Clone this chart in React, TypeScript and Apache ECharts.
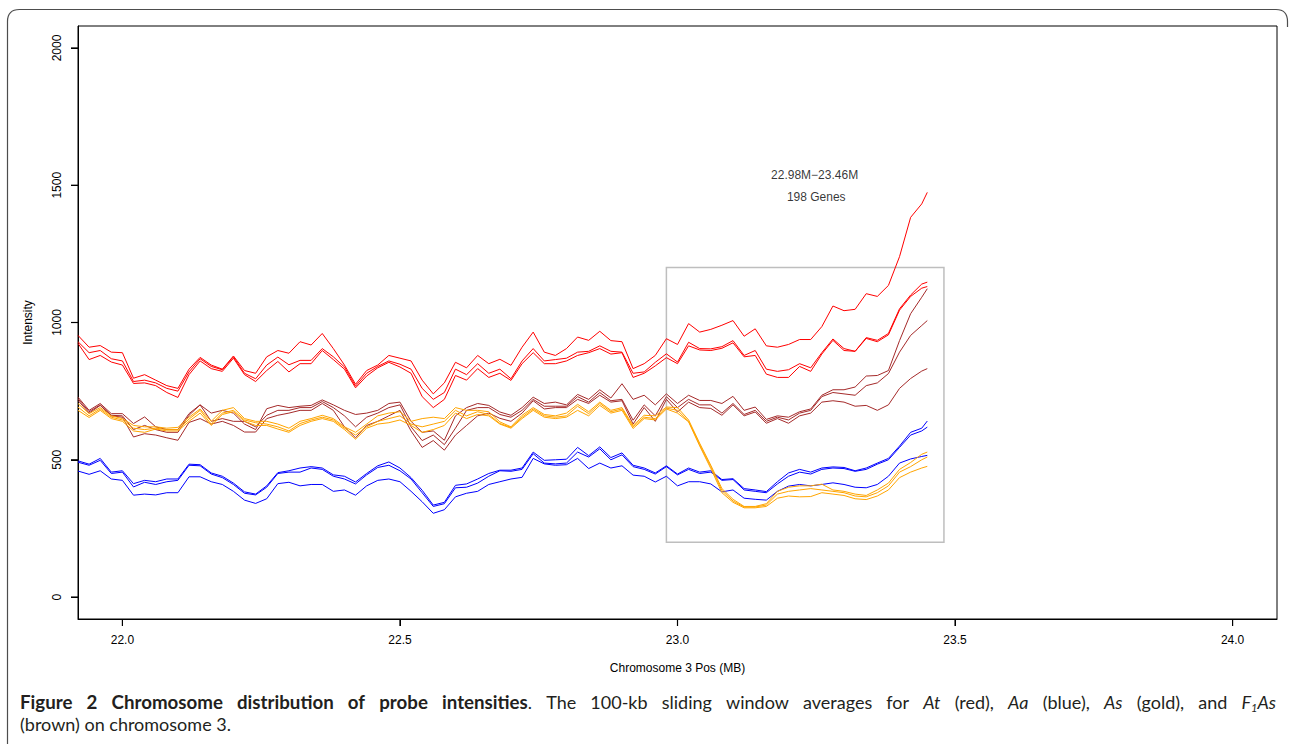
import React, { useEffect, useRef } from "react";
import * as echarts from "echarts";

// Chromosome 3 positions (MB) of the sliding-window averages
const POS = [
  21.92, 21.94, 21.96, 21.98, 22.0, 22.02, 22.04, 22.06, 22.08, 22.1,
  22.12, 22.14, 22.16, 22.18, 22.2, 22.22, 22.24, 22.26, 22.28, 22.3,
  22.32, 22.34, 22.36, 22.38, 22.4, 22.42, 22.44, 22.46, 22.48, 22.5,
  22.52, 22.54, 22.56, 22.58, 22.6, 22.62, 22.64, 22.66, 22.68, 22.7,
  22.72, 22.74, 22.76, 22.78, 22.8, 22.82, 22.84, 22.86, 22.88, 22.9,
  22.92, 22.94, 22.96, 22.98, 23.0, 23.02, 23.04, 23.06, 23.08, 23.1,
  23.12, 23.14, 23.16, 23.18, 23.2, 23.22, 23.24, 23.26, 23.28, 23.3,
  23.32, 23.34, 23.36, 23.38, 23.4, 23.42, 23.44, 23.45,
];

// At (red)
const AT_1 = [
  953, 910, 916, 892, 890, 797, 810, 790, 770, 760,
  830, 873, 845, 830, 878, 825, 815, 875, 898, 888,
  930, 918, 960, 905, 845, 775, 825, 845, 880, 870,
  860, 790, 740, 780, 855, 835, 880, 850, 866, 844,
  910, 965, 892, 880, 905, 947, 935, 968, 934, 930,
  832, 850, 880, 941, 920, 996, 965, 975, 990, 1007,
  950, 977, 915, 910, 920, 938, 938, 985, 1060, 1043,
  1048, 1105, 1095, 1135, 1240, 1383, 1432, 1474,
];
const AT_2 = [
  930, 890, 898, 868, 860, 785, 790, 780, 760, 750,
  820, 868, 840, 828, 875, 815, 795, 845, 874, 846,
  862, 862, 905, 875, 838, 768, 815, 840, 860, 848,
  830, 760, 720, 745, 830, 810, 850, 815, 830, 795,
  860, 905, 860, 865, 870, 892, 895, 915, 895, 892,
  815, 820, 855, 886, 856, 928, 905, 904, 912, 934,
  880, 898, 830, 822, 828, 850, 835, 890, 940, 905,
  895, 945, 935, 960, 1050, 1100, 1140, 1147,
];
const AT_3 = [
  924, 865, 880, 856, 845, 778, 780, 770, 745, 727,
  810, 860, 832, 822, 870, 810, 785, 825, 858, 820,
  850, 850, 898, 865, 830, 762, 805, 835, 855, 838,
  815, 730, 690, 720, 807, 790, 832, 800, 815, 789,
  850, 890, 850, 850, 860, 880, 890, 905, 885, 890,
  800, 815, 842, 872, 850, 915, 900, 898, 906, 926,
  875, 880, 812, 800, 800, 840, 822, 885, 935, 898,
  895, 942, 930, 955, 1045, 1095, 1125, 1131,
];

// Aa (blue)
const AA_1 = [
  496, 484, 505, 455, 460, 413, 425, 420, 430, 430,
  484, 482, 452, 440, 415, 383, 375, 405, 453, 460,
  470, 475, 470, 445, 440, 419, 450, 478, 492, 470,
  435, 389, 335, 345, 407, 412, 430, 450, 462, 462,
  470, 528, 498, 500, 502, 545, 515, 547, 508, 525,
  480, 470, 452, 478, 448, 470, 455, 460, 428, 431,
  395, 390, 384, 420, 452, 465, 455, 470, 474, 472,
  460, 470, 488, 505, 550, 600, 615, 641,
];
const AA_2 = [
  491, 480, 498, 450, 455, 401, 418, 410, 420, 425,
  480, 478, 448, 435, 410, 378, 372, 400, 450, 455,
  455, 470, 465, 440, 430, 412, 445, 472, 480, 460,
  430, 380, 330, 340, 398, 400, 415, 440, 460, 458,
  465, 522, 488, 485, 488, 528, 510, 540, 500, 518,
  475, 465, 448, 475, 445, 465, 450, 455, 425, 428,
  390, 385, 380, 412, 440, 455, 448, 465, 470, 468,
  458, 465, 484, 500, 545, 590, 605, 619,
];
const AA_3 = [
  459, 447, 460, 430, 425, 371, 375, 372, 380, 380,
  438, 438, 420, 410, 385, 353, 341, 358, 413, 418,
  405, 410, 410, 385, 390, 371, 405, 425, 430, 420,
  385, 347, 305, 318, 365, 378, 385, 410, 420, 430,
  436, 505, 485, 480, 482, 505, 468, 488, 470, 478,
  444, 440, 419, 440, 405, 420, 420, 412, 383, 390,
  360, 356, 353, 385, 404, 410, 405, 410, 416, 410,
  400, 398, 410, 440, 488, 503, 512, 516,
];

// As (gold)
const AS_1 = [
  705, 668, 690, 660, 650, 625, 620, 620, 615, 618,
  655, 685, 640, 680, 690, 650, 640, 640, 630, 615,
  640, 650, 662, 650, 620, 600, 630, 660, 670, 675,
  640, 650, 655, 650, 690, 680, 680, 675, 638, 620,
  662, 690, 665, 660, 670, 702, 675, 710, 680, 690,
  625, 662, 660, 692, 690, 645, 560, 480, 395, 356,
  330, 330, 340, 385, 400, 405, 405, 411, 390, 385,
  375, 370, 390, 415, 465, 490, 520, 528,
];
const AS_2 = [
  692, 660, 685, 655, 645, 615, 610, 615, 610, 610,
  648, 680, 630, 670, 680, 645, 635, 630, 620, 605,
  632, 645, 655, 645, 615, 590, 620, 640, 650, 660,
  630, 620, 630, 640, 680, 660, 675, 665, 632, 618,
  655, 685, 660, 655, 660, 695, 668, 705, 675, 685,
  620, 655, 650, 688, 680, 640, 555, 475, 388, 350,
  328, 328, 335, 375, 385, 390, 395, 390, 385, 380,
  368, 365, 380, 405, 455, 475, 500, 510,
];
const AS_3 = [
  680, 654, 680, 650, 640, 605, 600, 612, 605, 605,
  640, 670, 625, 665, 675, 640, 625, 625, 612, 600,
  625, 640, 650, 640, 610, 575, 615, 630, 635, 645,
  625, 600, 610, 625, 670, 650, 665, 660, 630, 615,
  650, 680, 655, 650, 655, 680, 660, 698, 670, 680,
  614, 650, 645, 685, 670, 638, 550, 468, 380, 345,
  325, 325, 330, 360, 368, 365, 366, 380, 375, 370,
  358, 355, 368, 390, 435, 455, 470, 476,
];

// F1As (brown)
const F1AS_1 = [
  728, 680, 705, 668, 668, 632, 656, 620, 610, 610,
  668, 700, 670, 680, 670, 630, 610, 686, 698, 690,
  695, 698, 718, 700, 680, 665, 670, 680, 705, 710,
  640, 600, 605, 571, 660, 690, 705, 698, 674, 662,
  690, 728, 705, 710, 700, 738, 720, 755, 725, 777,
  720, 735, 700, 740, 705, 735, 716, 716, 705, 731,
  680, 692, 647, 660, 655, 675, 685, 735, 755, 755,
  765, 805, 807, 825, 934, 1032, 1092, 1123,
];
const F1AS_2 = [
  722, 675, 700, 662, 660, 610, 625, 610, 600, 600,
  662, 700, 640, 650, 640, 640, 620, 662, 680, 680,
  690, 690, 712, 690, 660, 620, 655, 670, 690, 700,
  620, 570, 590, 555, 615, 680, 690, 690, 665, 655,
  680, 720, 695, 695, 695, 730, 710, 745, 715, 720,
  644, 700, 660, 730, 690, 720, 700, 700, 670, 705,
  665, 680, 640, 655, 645, 670, 680, 730, 745, 740,
  735, 770, 780, 814, 892, 953, 989, 1007,
];
const F1AS_3 = [
  716, 670, 698, 660, 655, 583, 595, 590, 580, 571,
  636, 650, 630, 640, 625, 601, 601, 650, 662, 670,
  680, 680, 705, 680, 620, 580, 625, 640, 660, 680,
  605, 545, 570, 535, 590, 625, 660, 670, 651, 640,
  670, 715, 685, 690, 690, 720, 705, 735, 710, 715,
  630, 690, 640, 720, 674, 710, 690, 687, 662, 700,
  660, 674, 633, 650, 633, 660, 670, 710, 715, 710,
  695, 698, 680, 700, 760, 796, 823, 832,
];

const X_TICKS = [22.0, 22.5, 23.0, 23.5, 24.0];
const Y_TICKS = [0, 500, 1000, 1500, 2000];
const X_MIN = 21.92;
const X_MAX = 24.08;
const Y_MIN = -80;
const Y_MAX = 2080;

// highlighted region
const BOX_X = [22.98, 23.48];
const BOX_Y = [200, 1200];
const NOTE_TEXT = ["22.98M\u221223.46M", "198 Genes"];
const NOTE_X = [23.247, 23.25];
const NOTE_Y = [1538, 1458];

const RED = "#ff0000";
const BLUE = "#0000ff";
const GOLD = "#ffa500";
const BROWN = "#a52a2a";

const LINES = [
  { name: "At 1", data: AT_1, color: RED },
  { name: "At 2", data: AT_2, color: RED },
  { name: "At 3", data: AT_3, color: RED },
  { name: "Aa 1", data: AA_1, color: BLUE },
  { name: "Aa 2", data: AA_2, color: BLUE },
  { name: "Aa 3", data: AA_3, color: BLUE },
  { name: "F1As 1", data: F1AS_1, color: BROWN },
  { name: "F1As 2", data: F1AS_2, color: BROWN },
  { name: "F1As 3", data: F1AS_3, color: BROWN },
  { name: "As 1", data: AS_1, color: GOLD },
  { name: "As 2", data: AS_2, color: GOLD },
  { name: "As 3", data: AS_3, color: GOLD },
];

type Run = { t: string; b?: boolean; i?: boolean; sub?: boolean };
const CAPTION_LINE1: Run[][] = [
  [{ t: "Figure", b: true }],
  [{ t: "2", b: true }],
  [{ t: "Chromosome", b: true }],
  [{ t: "distribution", b: true }],
  [{ t: "of", b: true }],
  [{ t: "probe", b: true }],
  [{ t: "intensities", b: true }, { t: "." }],
  [{ t: "The" }],
  [{ t: "100-kb" }],
  [{ t: "sliding" }],
  [{ t: "window" }],
  [{ t: "averages" }],
  [{ t: "for" }],
  [{ t: "At", i: true }],
  [{ t: "(red)," }],
  [{ t: "Aa", i: true }],
  [{ t: "(blue)," }],
  [{ t: "As", i: true }],
  [{ t: "(gold)," }],
  [{ t: "and" }],
  [{ t: "F", i: true }, { t: "1", i: true, sub: true }, { t: "As", i: true }],
];
const CAPTION_LINE2 = "(brown) on chromosome 3.";

const AXIS_FONT = "'Liberation Sans', Arial, Helvetica, sans-serif";
const CAP_FAMILY = "Lato";
const CAP_SIZE = 18;
const BOLD_SIZE = 18.7;
const SUB_SIZE = 11;

const GRID = { left: 78, top: 26, width: 1199, height: 593 };
const TICK_LEN = 7;

function runSize(r: Run) {
  return r.sub ? SUB_SIZE : r.b ? BOLD_SIZE : CAP_SIZE;
}
function runFont(r: Run) {
  return `${r.i ? "italic " : ""}${r.b ? "bold " : ""}${runSize(r)}px ${CAP_FAMILY}`;
}

function buildCaption(): any[] {
  const canvas = document.createElement("canvas");
  const ctx = canvas.getContext("2d")!;
  const measure = (r: Run) => {
    ctx.font = runFont(r);
    return ctx.measureText(r.t).width;
  };
  const left = 20;
  const right = 1276;
  const y1 = 702;
  const y2 = 724;
  const wordWidths = CAPTION_LINE1.map((w) => w.reduce((s, r) => s + measure(r), 0));
  const total = wordWidths.reduce((a, b) => a + b, 0);
  const gap = (right - left - total) / (CAPTION_LINE1.length - 1);
  const els: any[] = [];
  let x = left;
  CAPTION_LINE1.forEach((word, wi) => {
    let rx = x;
    word.forEach((r) => {
      els.push({
        type: "text",
        x: rx,
        y: r.sub ? y1 + 5 : y1,
        silent: true,
        style: {
          text: r.t,
          fill: "#231f20",
          fontFamily: CAP_FAMILY,
          fontSize: runSize(r),
          fontWeight: r.b ? "bold" : "normal",
          fontStyle: r.i ? "italic" : "normal",
          align: "left",
          verticalAlign: "middle",
        },
      });
      rx += measure(r);
    });
    x += wordWidths[wi] + gap;
  });
  els.push({
    type: "text",
    x: left,
    y: y2,
    silent: true,
    style: {
      text: CAPTION_LINE2,
      fill: "#231f20",
      fontFamily: CAP_FAMILY,
      fontSize: CAP_SIZE,
      align: "left",
      verticalAlign: "middle",
    },
  });
  return els;
}

// tick marks as small filled rects, placed along the grid with the axes' linear scale
function buildTicks(): any[] {
  const bottom = GRID.top + GRID.height;
  const els: any[] = [];
  X_TICKS.forEach((v) => {
    const px = GRID.left + ((v - X_MIN) / (X_MAX - X_MIN)) * GRID.width;
    els.push({
      type: "rect",
      silent: true,
      z: 100,
      shape: { x: px - 0.6, y: bottom, width: 1.2, height: TICK_LEN },
      style: { fill: "#000" },
    });
  });
  Y_TICKS.forEach((v) => {
    const py = GRID.top + ((Y_MAX - v) / (Y_MAX - Y_MIN)) * GRID.height;
    els.push({
      type: "rect",
      silent: true,
      z: 100,
      shape: { x: GRID.left - TICK_LEN, y: py - 0.6, width: TICK_LEN, height: 1.2 },
      style: { fill: "#000" },
    });
  });
  return els;
}

echarts.graphic.registerShape(
  "figframe",
  echarts.graphic.extendPath(
    "M7.5 744 L7.5 21.5 Q7.5 9.5 19.5 9.5 L1276 9.5 Q1287.5 9.5 1287.5 21.5 L1287.5 27",
    {}
  )
);

export default function App() {
  const ref = useRef<HTMLDivElement>(null);

  useEffect(() => {
    if (!ref.current) return;
    const chart = echarts.init(ref.current, undefined, { renderer: "svg" });

    const series: any[] = LINES.map((l, idx) => ({
      name: l.name,
      type: "line",
      data: POS.map((x, i) => [x, l.data[i]]),
      showSymbol: false,
      symbol: "none",
      smooth: false,
      silent: true,
      lineStyle: { color: l.color, width: 1 },
      itemStyle: { color: l.color },
      z: 3,
      markArea:
        idx === 0
          ? {
              silent: true,
              itemStyle: {
                color: "rgba(0,0,0,0)",
                borderColor: "#bebebe",
                borderWidth: 1.5,
              },
              data: [[{ coord: [BOX_X[0], BOX_Y[1]] }, { coord: [BOX_X[1], BOX_Y[0]] }]],
            }
          : undefined,
    }));

    series.push({
      name: "notes",
      type: "scatter",
      symbolSize: 0,
      silent: true,
      data: NOTE_X.map((x, i) => ({
        value: [x, NOTE_Y[i]],
        label: { formatter: NOTE_TEXT[i] },
      })),
      label: {
        show: true,
        position: "inside",
        color: "#000",
        fontSize: 12,
        fontFamily: AXIS_FONT,
      },
    });

    const axisLine = { show: true, onZero: false, lineStyle: { color: "#000", width: 1 } };

    chart.setOption({
      animation: false,
      backgroundColor: "#ffffff",
      grid: {
        ...GRID,
        show: true,
        borderColor: "#000",
        borderWidth: 1,
        backgroundColor: "transparent",
      },
      xAxis: {
        type: "value",
        min: X_MIN,
        max: X_MAX,
        axisLine,
        splitLine: { show: false },
        axisTick: {
          show: true,
          customValues: X_TICKS,
          length: TICK_LEN,
          lineStyle: { color: "#000", width: 1 },
        },
        axisLabel: {
          customValues: X_TICKS,
          formatter: (v: number) => v.toFixed(1),
          color: "#000",
          fontSize: 12,
          fontFamily: AXIS_FONT,
          margin: 15,
        },
        name: "Chromosome 3 Pos (MB)",
        nameLocation: "middle",
        nameGap: 43,
        nameTextStyle: { color: "#000", fontSize: 12, fontFamily: AXIS_FONT },
      },
      yAxis: {
        type: "value",
        min: Y_MIN,
        max: Y_MAX,
        axisLine,
        splitLine: { show: false },
        axisTick: {
          show: true,
          customValues: Y_TICKS,
          length: TICK_LEN,
          lineStyle: { color: "#000", width: 1 },
        },
        axisLabel: {
          customValues: Y_TICKS,
          rotate: 90,
          formatter: (v: number) => String(v),
          color: "#000",
          fontSize: 12,
          fontFamily: AXIS_FONT,
          margin: 15,
        },
        name: "Intensity",
        nameLocation: "middle",
        nameGap: 44,
        nameTextStyle: { color: "#000", fontSize: 12, fontFamily: AXIS_FONT },
      },
      series,
      graphic: [
        {
          type: "figframe",
          x: 0,
          y: 0,
          silent: true,
          style: { fill: "none", stroke: "#4d4d4d", lineWidth: 1.2 },
        },
        ...buildTicks(),
        ...buildCaption(),
      ],
    });

    return () => chart.dispose();
  }, []);

  return (
    <div
      ref={ref}
      style={{ position: "absolute", left: 0, top: 0, width: 1290, height: 744, background: "#fff" }}
    />
  );
}
